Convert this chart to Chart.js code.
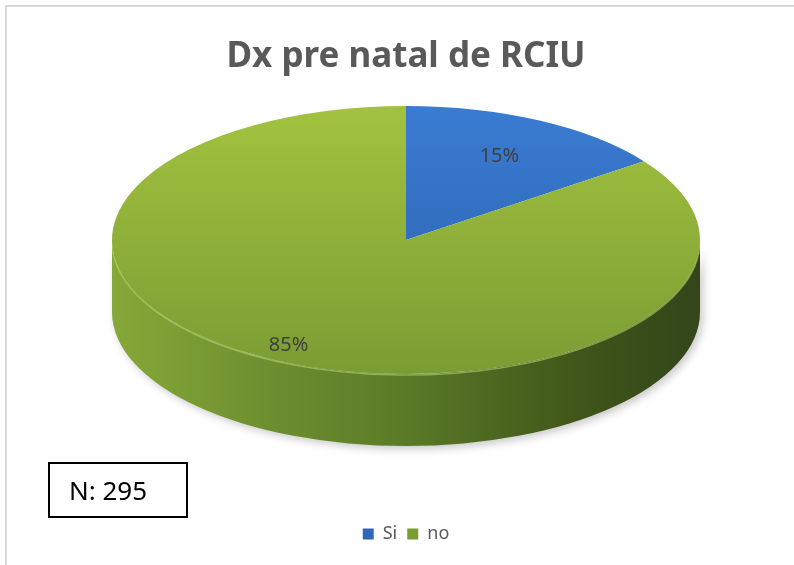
<!DOCTYPE html>
<html>
<head>
<meta charset="utf-8">
<script src="https://cdn.jsdelivr.net/npm/chart.js@4/dist/chart.umd.min.js"></script>
<style>
  html, body { margin: 0; padding: 0; background: #ffffff; }
  #wrap { position: absolute; left: 0; top: 0; width: 794px; height: 565px; }
  #frame { position: absolute; left: 5px; top: 5px; width: 820px; height: 600px;
           border-left: 2px solid #d9d9d9; border-top: 2px solid #d9d9d9; }
  #nbox { position: absolute; left: 48px; top: 462px; width: 136px; height: 52px;
          border: 2px solid #000; font-family: "Noto Sans", sans-serif; font-size: 26px;
          color: #000; line-height: 52px; }
  #nbox span { position: absolute; left: 19px; top: 0; }
</style>
</head>
<body>
<div id="frame"></div>
<div id="wrap"><canvas id="c" width="794" height="565"></canvas></div>
<div id="nbox"><span>N: 295</span></div>
<script>
// ---- data ----
const titleText = "Dx pre natal de RCIU";
const categories = ["Si", "no"];
const percentValues = [15, 85];
const sampleNote = "N: 295";

// ---- style ----
const solidColors = ["#2f66b5", "#7a9c30"];
const topGrad = [["#3a7cd3", "#2b5fa9"], ["#a2c23f", "#7b9c33"]];
const labelFrac = [0.7, 0.88];
const TILT = { cx: 406, cy: 240, rx: 294, ry: 134, depth: 72 };

function arcGradient(ctx, i) {
  const chart = ctx.chart;
  const ca = chart.chartArea;
  if (!ca) return solidColors[i];
  const cy = (ca.top + ca.bottom) / 2;
  const R = Math.min(ca.right - ca.left, ca.bottom - ca.top) / 2;
  const g = chart.ctx.createLinearGradient(0, cy - R, 0, cy + R);
  g.addColorStop(0, topGrad[i][0]);
  g.addColorStop(1, topGrad[i][1]);
  return g;
}

const tiltPlugin = {
  id: "tilt",
  beforeDatasetsDraw(chart) {
    const ctx = chart.ctx;
    const meta = chart.getDatasetMeta(0);
    const a0 = meta.data[0];
    const R = a0.outerRadius;
    const T = TILT;
    ctx.save();
    const sg = ctx.createLinearGradient(T.cx - T.rx, 0, T.cx + T.rx, 0);
    sg.addColorStop(0, "#86a838");
    sg.addColorStop(0.25, "#6f9030");
    sg.addColorStop(0.5, "#5a7a27");
    sg.addColorStop(0.8, "#3f5519");
    sg.addColorStop(1, "#33451a");
    const sgBlue = ctx.createLinearGradient(T.cx - T.rx, 0, T.cx + T.rx, 0);
    sgBlue.addColorStop(0, "#2a5aa0");
    sgBlue.addColorStop(1, "#1a3a6a");
    ctx.shadowColor = "rgba(0,0,0,0.22)";
    ctx.shadowBlur = 8;
    ctx.shadowOffsetX = 3;
    ctx.shadowOffsetY = 3;
    meta.data.forEach((el, i) => {
      const s = el.startAngle, e = el.endAngle;
      const ranges = [];
      for (let k = -1; k <= 1; k++) {
        const off = k * 2 * Math.PI;
        const ss = Math.max(s + off, 0), ee = Math.min(e + off, Math.PI);
        if (ee > ss) ranges.push([ss, ee]);
      }
      ranges.forEach(([ss, ee]) => {
        ctx.beginPath();
        ctx.ellipse(T.cx, T.cy, T.rx, T.ry, 0, ss, ee, false);
        ctx.ellipse(T.cx, T.cy + T.depth, T.rx, T.ry, 0, ee, ss, true);
        ctx.closePath();
        ctx.fillStyle = i === 0 ? sgBlue : sg;
        ctx.fill();
      });
    });
    ctx.restore();
    ctx.save();
    ctx.beginPath();
    ctx.ellipse(T.cx, T.cy + 1, T.rx, T.ry, 0, 0.05, Math.PI - 0.05, false);
    ctx.strokeStyle = "rgba(190,215,120,0.55)";
    ctx.lineWidth = 1.5;
    ctx.stroke();
    ctx.restore();
    ctx.save();
    ctx.translate(T.cx, T.cy);
    ctx.scale(T.rx / R, T.ry / R);
    ctx.translate(-a0.x, -a0.y);
  },
  afterDatasetsDraw(chart) {
    const ctx = chart.ctx;
    ctx.restore();
    const meta = chart.getDatasetMeta(0);
    const T = TILT;
    ctx.save();
    ctx.font = '20px "Noto Sans", sans-serif';
    ctx.fillStyle = "#404040";
    ctx.textAlign = "center";
    ctx.textBaseline = "middle";
    const total = percentValues.reduce((a, b) => a + b, 0);
    meta.data.forEach((el, i) => {
      const mid = (el.startAngle + el.endAngle) / 2;
      const f = labelFrac[i];
      const x = T.cx + T.rx * f * Math.cos(mid);
      const y = T.cy + T.ry * f * Math.sin(mid);
      const pct = Math.round(percentValues[i] / total * 100) + "%";
      ctx.fillText(pct, x, y);
    });
    ctx.restore();
  }
};

new Chart(document.getElementById("c"), {
  type: "pie",
  data: {
    labels: categories,
    datasets: [{
      data: percentValues,
      backgroundColor: (ctx) => arcGradient(ctx, ctx.dataIndex),
      borderWidth: 0
    }]
  },
  options: {
    responsive: false,
    animation: false,
    layout: { padding: { top: 0, bottom: 12, left: 18, right: 0 } },
    plugins: {
      tooltip: { enabled: false },
      title: {
        display: true,
        text: titleText,
        color: "#595959",
        font: { family: "'Noto Sans', sans-serif", size: 35, weight: "bold" },
        padding: { top: 36, bottom: 10 }
      },
      legend: {
        position: "bottom",
        labels: {
          boxWidth: 11,
          boxHeight: 11,
          padding: 10,
          color: "#595959",
          font: { family: "'Noto Sans', sans-serif", size: 18 },
          generateLabels: (chart) => categories.map((c, i) => ({
            text: c,
            fillStyle: solidColors[i],
            strokeStyle: solidColors[i],
            lineWidth: 0,
            hidden: false,
            index: i,
            fontColor: "#595959"
          }))
        }
      }
    }
  },
  plugins: [tiltPlugin]
});
</script>
</body>
</html>
